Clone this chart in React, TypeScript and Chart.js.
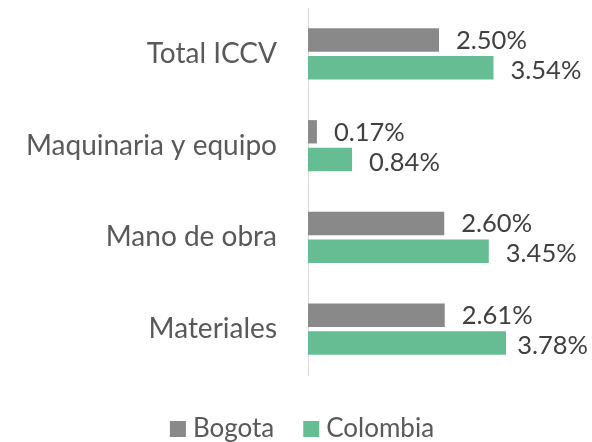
import React, { useEffect, useRef } from "react";
import { Chart, registerables } from "chart.js";
Chart.register(...registerables);

const categories = ["Total ICCV", "Maquinaria y equipo", "Mano de obra", "Materiales"];
const bogota = [2.5, 0.17, 2.6, 2.61];
const colombia = [3.54, 0.84, 3.45, 3.78];
const seriesNames = ["Bogota", "Colombia"];

const FONT = "Lato";
const FS = 25.5;
const FS_LEGEND = 26;
const FS_AXIS = 28;

export default function App() {
  const ref = useRef<HTMLCanvasElement>(null);
  useEffect(() => {
    const labelPlugin = {
      id: "vals",
      afterDatasetsDraw(chart: any) {
        const ctx = chart.ctx;
        ctx.save();
        ctx.font = `${FS}px ${FONT}`;
        ctx.fillStyle = "#404040";
        ctx.textAlign = "left";
        ctx.textBaseline = "middle";
        chart.data.datasets.forEach((ds: any, di: number) => {
          const meta = chart.getDatasetMeta(di);
          meta.data.forEach((el: any, i: number) => {
            const txt = ds.data[i].toFixed(2) + "%";
            const w = ctx.measureText(txt).width;
            let x = el.x + 17;
            if (x + w > chart.width - 4) x = chart.width - 4 - w;
            ctx.fillText(txt, x, el.y + (di === 0 ? 0.5 : 3));
          });
        });
        ctx.restore();
      },
    };
    const legendPlugin = {
      id: "legendCustom",
      afterDraw(chart: any) {
        const ctx = chart.ctx;
        ctx.save();
        ctx.font = `${FS_LEGEND}px ${FONT}`;
        const box = 16, gapText = 7, gapItem = 29;
        const items = chart.data.datasets.map((d: any) => ({ t: d.label, c: d.backgroundColor, w: ctx.measureText(d.label).width }));
        let total = 0;
        items.forEach((it: any, i: number) => { total += box + gapText + it.w + (i ? gapItem : 0); });
        let x = (chart.width - total) / 2 + 6;
        const cy = 429;
        items.forEach((it: any) => {
          ctx.fillStyle = it.c;
          ctx.fillRect(x, cy - box / 2, box, box);
          ctx.fillStyle = "#595959";
          ctx.textBaseline = "middle";
          ctx.textAlign = "left";
          ctx.fillText(it.t, x + box + gapText, cy);
          x += box + gapText + it.w + gapItem;
        });
        ctx.restore();
      },
    };
    const chart = new Chart(ref.current!, {
      type: "bar",
      data: {
        labels: categories,
        datasets: [
          { label: seriesNames[0], data: bogota, backgroundColor: "#898989", barPercentage: 0.844, categoryPercentage: 0.603 },
          { label: seriesNames[1], data: colombia, backgroundColor: "#66BD93", barPercentage: 0.844, categoryPercentage: 0.603 },
        ],
      },
      options: {
        indexAxis: "y",
        animation: false,
        responsive: false,
        layout: { padding: { top: 8, bottom: 67, left: 0, right: 22 } },
        plugins: { legend: { display: false }, tooltip: { enabled: false } },
        scales: {
          x: { display: false, min: 0, max: 5 },
          y: {
            afterFit: (s: any) => { s.width = 308; s.paddingTop = 0; s.paddingBottom = 0; },
            grid: { display: false, drawTicks: false },
            border: { display: true, color: "#d9d9d9", width: 1 },
            ticks: { padding: 31, color: "#595959", font: { family: FONT, size: FS_AXIS } },
          },
        },
      },
      plugins: [labelPlugin, legendPlugin],
    });
    return () => chart.destroy();
  }, []);
  return (
    <div style={{ position: "absolute", left: 0, top: 0, width: 592, height: 442 }}>
      <canvas ref={ref} width={592} height={442} style={{ width: 592, height: 442 }} />
    </div>
  );
}
